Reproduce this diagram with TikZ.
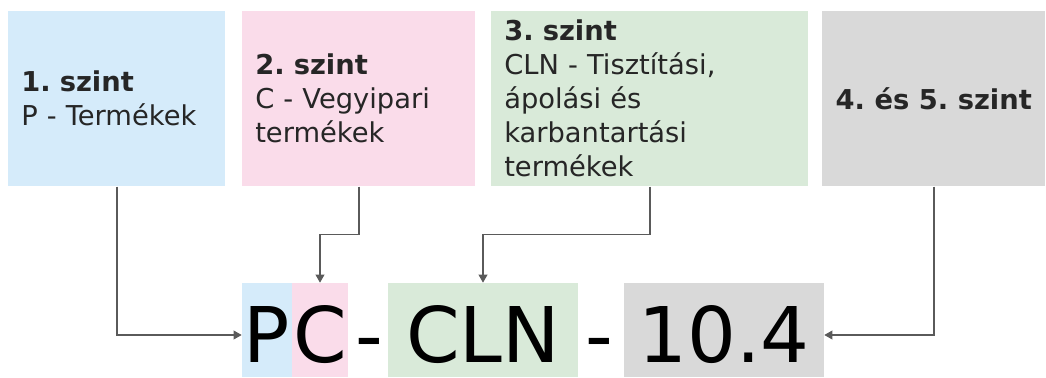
\documentclass[tikz,border=0pt]{standalone}
\usepackage{fontspec}
\setmainfont{DejaVu Sans}
\usetikzlibrary{arrows.meta,calc}
\frenchspacing

\definecolor{lvlblue}{HTML}{D5EBFA}
\definecolor{lvlpink}{HTML}{FADCEA}
\definecolor{lvlgreen}{HTML}{D9EAD9}
\definecolor{lvlgray}{HTML}{D9D9D9}
\definecolor{linegray}{HTML}{5A5A5A}

\begin{document}
\begin{tikzpicture}[
		x=0.75pt,
		y=-0.75pt,
		level/.style={anchor=north west, inner sep=0pt, inner xsep=9.75pt, minimum height=131.25pt, text=black!85, font=\fontsize{20.5pt}{25.5pt}\selectfont},
		leveltext/.style={level, align=left, text width=#1},
		codebox/.style={anchor=base, inner sep=0pt, text height=59.25pt, text depth=11.25pt, font=\fontsize{57.6pt}{60pt}\selectfont},
		conn/.style={draw=linegray, line width=1.1pt, -{Triangle[length=6pt,width=6.5pt]}}
	]

	\useasboundingbox (0,0) rectangle (1046,378);

	% Level boxes
	\node[leveltext=143.25pt, fill=lvlblue] (lvlA) at (8,11) {\textbf{1. szint}\\P - Termékek};
	\node[leveltext=155.25pt, fill=lvlpink] (lvlB) at (242,11) {\textbf{2. szint}\\C - Vegyipari\\termékek};
	\node[leveltext=218.25pt, fill=lvlgreen] (lvlC) at (491,11) {\textbf{3. szint}\\CLN - Tisztítási,\\ápolási és\\karbantartási\\termékek};
	\node[level, minimum width=167.25pt, fill=lvlgray] (lvlD) at (822,11) {\textbf{4. és 5. szint}};

	% Code parts
	\node[codebox, minimum width=37.5pt, fill=lvlblue] (pbox) at (267,362) {P};
	\node[codebox, minimum width=42pt, fill=lvlpink] (cbox) at (320,362) {C};
	\node[codebox] (dashA) at (369.5,362) {-};
	\node[codebox, minimum width=142.5pt, fill=lvlgreen] (clnbox) at (483,362) {CLN};
	\node[codebox] (dashB) at (599.5,362) {-};
	\node[codebox, minimum width=150pt, fill=lvlgray] (numbox) at (724,362) {10.4};

	% Connectors
	\draw[conn] (lvlA.south) |- ([yshift=-3.75pt]pbox.west);
	\draw[conn] (lvlB.south) |- ($(lvlB.south)!0.5!(cbox.north)$) -| (cbox.north);
	\draw[conn] (lvlC.south) |- ($(lvlC.south)!0.5!(clnbox.north)$) -| (clnbox.north);
	\draw[conn] (lvlD.south) |- ([yshift=-3.75pt]numbox.east);

\end{tikzpicture}
\end{document}
